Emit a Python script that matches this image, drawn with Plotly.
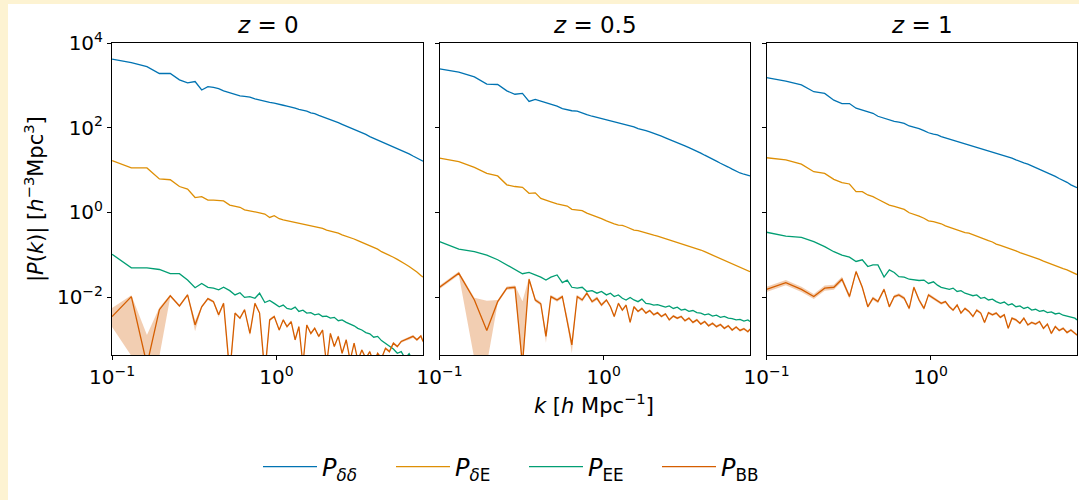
import numpy as np
import plotly.graph_objects as go

# ---------------- data (power values stored as log10) ----------------
k = [0.100, 0.131, 0.163, 0.194, 0.226, 0.257, 0.288, 0.320, 0.351, 0.383, 0.414, 0.445, 0.477,
     0.52, 0.56, 0.60, 0.64, 0.69, 0.74, 0.79, 0.85, 0.91, 0.97,
     1.04, 1.10, 1.16, 1.23, 1.30, 1.37, 1.45, 1.53, 1.62, 1.71,
     1.81, 1.91, 2.02, 2.13, 2.25, 2.38, 2.51, 2.66, 2.81, 2.97,
     3.13, 3.31, 3.50, 3.70, 3.91, 4.13, 4.36, 4.61, 4.87, 5.15,
     5.44, 5.75, 6.07, 6.42, 6.78, 7.16, 7.57, 7.80]

# z = 0
log10_Pdd_z0 = [3.62, 3.535, 3.44, 3.28, 3.28, 3.13, 3.06, 3.09, 2.89, 2.97, 2.95, 2.92, 2.87,
                2.83, 2.79, 2.75, 2.74, 2.72, 2.68, 2.65, 2.62, 2.60, 2.58,
                2.56, 2.53, 2.51, 2.49, 2.46, 2.43, 2.41, 2.39, 2.35, 2.33,
                2.29, 2.26, 2.22, 2.19, 2.16, 2.12, 2.08, 2.04, 2.00, 1.96,
                1.93, 1.89, 1.84, 1.79, 1.75, 1.71, 1.67, 1.63, 1.59, 1.55,
                1.50, 1.46, 1.43, 1.38, 1.33, 1.28, 1.24, 1.21]
log10_PdE_z0 = [1.22, 1.05, 1.05, 0.79, 0.77, 0.61, 0.55, 0.35, 0.37, 0.29, 0.29, 0.28, 0.27,
                0.17, 0.15, 0.12, 0.06, 0.04, 0.02, -0.01, -0.04, -0.12, -0.08,
                -0.15, -0.18, -0.20, -0.21, -0.24, -0.26, -0.27, -0.29, -0.31, -0.34,
                -0.36, -0.38, -0.42, -0.44, -0.47, -0.49, -0.53, -0.56, -0.59, -0.63,
                -0.67, -0.71, -0.74, -0.79, -0.83, -0.87, -0.93, -0.97, -1.01, -1.06,
                -1.11, -1.16, -1.22, -1.28, -1.34, -1.41, -1.49, -1.53]
log10_PEE_z0 = [-0.99, -1.31, -1.31, -1.35, -1.45, -1.45, -1.60, -1.78, -1.68, -1.77, -1.79, -1.83, -1.77,
                -1.85, -1.95, -1.90, -2.01, -1.99, -2.03, -1.91, -2.13, -2.08, -2.15,
                -2.23, -2.19, -2.27, -2.29, -2.24, -2.34, -2.31, -2.38, -2.37, -2.42,
                -2.40, -2.46, -2.45, -2.50, -2.48, -2.56, -2.54, -2.60, -2.64, -2.68,
                -2.74, -2.78, -2.84, -2.87, -2.95, -2.93, -3.03, -3.09, -3.17, -3.23,
                -3.33, -3.29, -3.45, -3.34, -3.50, -3.60, -3.50, -3.60]
log10_PBB_z0 = [-2.46, -1.99, -3.60, -2.30, -1.97, -2.21, -1.95, -2.66, -2.23, -2.04, -2.11, -2.42, -2.15,
                -3.80, -2.38, -2.50, -2.30, -2.86, -2.15, -2.38, -3.80, -2.54, -2.46,
                -2.78, -2.54, -2.70, -2.58, -3.01, -2.70, -3.60, -2.66, -2.86, -2.74,
                -2.93, -2.78, -3.60, -2.86, -3.17, -2.93, -3.33, -3.01, -3.50, -3.09,
                -3.50, -3.25, -3.45, -3.29, -3.55, -3.33, -3.45, -3.21, -3.29, -3.09,
                -3.17, -3.05, -3.01, -2.98, -2.93, -3.01, -2.92, -3.05]
BB_err_up_z0 = [0.20, 0.03, 0.70, 0.05, 0.03, 0.03, 0.03, 0.10, 0.03, 0.03, 0.03, 0.05, 0.03,
                0.10, 0.03, 0.03, 0.03, 0.05, 0.03, 0.03, 0.10, 0.03, 0.03,
                0.03, 0.03, 0.03, 0.03, 0.03, 0.03, 0.03, 0.03, 0.03, 0.03,
                0.03, 0.03, 0.03, 0.03, 0.03, 0.03, 0.03, 0.03, 0.03, 0.03,
                0.03, 0.03, 0.03, 0.03, 0.03, 0.03, 0.03, 0.03, 0.03, 0.03,
                0.03, 0.03, 0.03, 0.03, 0.03, 0.03, 0.03, 0.03]
BB_err_dn_z0 = [0.25, 1.40, 0.50, 1.10, 0.03, 0.03, 0.03, 0.15, 0.03, 0.03, 0.03, 0.06, 0.03,
                0.30, 0.03, 0.03, 0.03, 0.06, 0.03, 0.03, 0.30, 0.03, 0.03,
                0.03, 0.03, 0.03, 0.03, 0.03, 0.03, 0.03, 0.03, 0.03, 0.03,
                0.03, 0.03, 0.03, 0.03, 0.03, 0.03, 0.03, 0.03, 0.03, 0.03,
                0.03, 0.03, 0.03, 0.03, 0.03, 0.03, 0.03, 0.03, 0.03, 0.03,
                0.03, 0.03, 0.03, 0.03, 0.03, 0.03, 0.03, 0.03]

# z = 0.5
log10_Pdd_z05 = [3.39, 3.31, 3.20, 3.03, 3.02, 2.87, 2.79, 2.81, 2.62, 2.67, 2.63, 2.59, 2.54,
                 2.51, 2.45, 2.42, 2.40, 2.39, 2.34, 2.31, 2.27, 2.24, 2.21,
                 2.19, 2.16, 2.14, 2.12, 2.09, 2.07, 2.05, 2.02, 1.98, 1.96,
                 1.93, 1.90, 1.87, 1.83, 1.80, 1.76, 1.72, 1.68, 1.65, 1.61,
                 1.57, 1.53, 1.49, 1.44, 1.40, 1.35, 1.31, 1.26, 1.21, 1.16,
                 1.12, 1.07, 1.02, 0.97, 0.93, 0.90, 0.87, 0.86]
log10_PdE_z05 = [1.28, 1.20, 1.06, 0.92, 0.86, 0.65, 0.61, 0.59, 0.45, 0.46, 0.33, 0.28, 0.25,
                 0.20, 0.17, 0.15, 0.07, 0.06, 0.04, -0.02, -0.06, -0.10, -0.15,
                 -0.20, -0.24, -0.27, -0.30, -0.31, -0.34, -0.38, -0.42, -0.43, -0.46,
                 -0.49, -0.51, -0.54, -0.56, -0.59, -0.61, -0.64, -0.67, -0.70, -0.73,
                 -0.76, -0.79, -0.83, -0.86, -0.89, -0.93, -0.97, -1.01, -1.05, -1.08,
                 -1.12, -1.16, -1.20, -1.25, -1.28, -1.32, -1.38, -1.40]
log10_PEE_z05 = [-0.69, -0.87, -0.93, -1.01, -1.12, -1.24, -1.34, -1.45, -1.42, -1.48, -1.53, -1.60, -1.53,
                 -1.48, -1.66, -1.60, -1.77, -1.79, -1.77, -1.87, -1.85, -1.91, -1.87,
                 -1.95, -1.91, -1.99, -1.95, -2.03, -2.07, -2.01, -2.07, -2.11, -2.05,
                 -2.15, -2.16, -2.19, -2.18, -2.21, -2.24, -2.21, -2.27, -2.24, -2.31,
                 -2.29, -2.34, -2.32, -2.37, -2.38, -2.42, -2.40, -2.45, -2.43, -2.48,
                 -2.46, -2.50, -2.51, -2.54, -2.53, -2.57, -2.54, -2.58]
log10_PBB_z05 = [-1.77, -1.44, -2.07, -2.79, -2.11, -1.79, -1.77, -3.60, -1.58, -2.07, -2.16, -2.93, -1.99,
                 -2.07, -1.99, -2.54, -3.13, -1.99, -2.07, -1.91, -2.11, -2.03, -2.19,
                 -2.07, -2.23, -2.46, -2.15, -2.31, -2.19, -2.60, -2.23, -2.34, -2.27,
                 -2.38, -2.32, -2.42, -2.37, -2.46, -2.40, -2.54, -2.45, -2.50, -2.46,
                 -2.56, -2.50, -2.60, -2.54, -2.64, -2.58, -2.68, -2.62, -2.70, -2.65,
                 -2.74, -2.68, -2.78, -2.71, -2.79, -2.75, -2.82, -2.76]
BB_err_up_z05 = [0.04, 0.04, 0.05, 0.70, 0.04, 0.04, 0.04, 1.50, 0.04, 0.04, 0.04, 0.10, 0.04,
                 0.04, 0.04, 0.08, 0.10, 0.04, 0.04, 0.04, 0.04, 0.04, 0.04,
                 0.03, 0.03, 0.03, 0.03, 0.03, 0.03, 0.03, 0.03, 0.03, 0.03,
                 0.03, 0.03, 0.03, 0.03, 0.03, 0.03, 0.03, 0.03, 0.03, 0.03,
                 0.03, 0.03, 0.03, 0.03, 0.03, 0.03, 0.03, 0.03, 0.03, 0.03,
                 0.03, 0.03, 0.03, 0.03, 0.03, 0.03, 0.03, 0.03]
BB_err_dn_z05 = [0.04, 0.04, 1.40, 0.80, 0.04, 0.04, 0.04, 0.20, 0.04, 0.04, 0.04, 0.15, 0.04,
                 0.04, 0.04, 0.10, 0.20, 0.04, 0.04, 0.04, 0.04, 0.04, 0.04,
                 0.03, 0.03, 0.03, 0.03, 0.03, 0.03, 0.03, 0.03, 0.03, 0.03,
                 0.03, 0.03, 0.03, 0.03, 0.03, 0.03, 0.03, 0.03, 0.03, 0.03,
                 0.03, 0.03, 0.03, 0.03, 0.03, 0.03, 0.03, 0.03, 0.03, 0.03,
                 0.03, 0.03, 0.03, 0.03, 0.03, 0.03, 0.03, 0.03]

# z = 1
log10_Pdd_z1 = [3.18, 3.10, 3.01, 2.85, 2.81, 2.65, 2.57, 2.57, 2.46, 2.42, 2.38, 2.34, 2.27,
                2.22, 2.18, 2.15, 2.13, 2.10, 2.04, 2.01, 1.98, 1.93, 1.88,
                1.85, 1.83, 1.79, 1.76, 1.73, 1.71, 1.68, 1.65, 1.62, 1.59,
                1.57, 1.54, 1.50, 1.47, 1.45, 1.43, 1.40, 1.37, 1.34, 1.31,
                1.28, 1.24, 1.20, 1.17, 1.14, 1.10, 1.06, 1.02, 0.98, 0.94,
                0.89, 0.85, 0.80, 0.76, 0.71, 0.65, 0.61, 0.58]
log10_PdE_z1 = [1.29, 1.24, 1.14, 0.96, 0.92, 0.78, 0.70, 0.67, 0.49, 0.49, 0.41, 0.37, 0.31,
                0.23, 0.17, 0.14, 0.10, 0.07, -0.01, -0.04, -0.09, -0.14, -0.20,
                -0.22, -0.24, -0.27, -0.32, -0.35, -0.38, -0.42, -0.44, -0.48, -0.49,
                -0.53, -0.56, -0.59, -0.64, -0.67, -0.70, -0.75, -0.78, -0.81, -0.84,
                -0.87, -0.91, -0.95, -0.98, -1.01, -1.05, -1.08, -1.11, -1.15, -1.19,
                -1.22, -1.26, -1.30, -1.33, -1.36, -1.40, -1.44, -1.47]
log10_PEE_z1 = [-0.47, -0.56, -0.59, -0.69, -0.81, -0.93, -1.01, -1.06, -1.16, -1.12, -1.28, -1.24, -1.24,
                -1.53, -1.36, -1.42, -1.52, -1.53, -1.58, -1.60, -1.61, -1.60, -1.68,
                -1.64, -1.72, -1.77, -1.79, -1.82, -1.79, -1.87, -1.85, -1.91, -1.94,
                -1.97, -1.95, -2.03, -2.01, -2.07, -2.05, -2.11, -2.15, -2.12, -2.19,
                -2.16, -2.23, -2.21, -2.27, -2.24, -2.31, -2.29, -2.34, -2.32, -2.37,
                -2.35, -2.40, -2.38, -2.43, -2.45, -2.48, -2.50, -2.54]
log10_PBB_z1 = [-1.82, -1.66, -1.82, -1.99, -1.79, -1.77, -1.58, -1.99, -1.40, -1.77, -2.23, -2.03, -2.11,
                -1.82, -2.23, -1.99, -1.95, -2.03, -2.27, -1.77, -2.07, -2.27, -1.95,
                -2.03, -2.09, -2.15, -2.11, -2.23, -2.31, -2.19, -2.38, -2.27, -2.34,
                -2.46, -2.31, -2.38, -2.60, -2.37, -2.42, -2.38, -2.48, -2.42, -2.74,
                -2.50, -2.54, -2.62, -2.50, -2.66, -2.60, -2.64, -2.58, -2.74, -2.64,
                -2.86, -2.70, -2.79, -2.74, -2.84, -2.78, -2.86, -2.90]
BB_err_z1 = [0.06, 0.06, 0.06, 0.06, 0.06, 0.06, 0.06, 0.06, 0.04, 0.04, 0.04, 0.04, 0.04,
             0.04, 0.04, 0.04, 0.04, 0.04, 0.04, 0.04, 0.04, 0.04, 0.04,
             0.03, 0.03, 0.03, 0.03, 0.03, 0.03, 0.03, 0.03, 0.03, 0.03,
             0.03, 0.03, 0.03, 0.03, 0.03, 0.03, 0.03, 0.03, 0.03, 0.03,
             0.03, 0.03, 0.03, 0.03, 0.03, 0.03, 0.03, 0.03, 0.03, 0.03,
             0.03, 0.03, 0.03, 0.03, 0.03, 0.03, 0.03, 0.03]

panel_titles = ["<i>z</i> = 0", "<i>z</i> = 0.5", "<i>z</i> = 1"]
series_names = ["<i>P</i><sub><i>δδ</i></sub>", "<i>P</i><sub><i>δ</i>E</sub>",
                "<i>P</i><sub>EE</sub>", "<i>P</i><sub>BB</sub>"]
x_tickvals = [0.1, 1.0]
x_ticktext = ["10<sup>−1</sup>", "10<sup>0</sup>"]
y_tickvals = [1e-2, 1e0, 1e2, 1e4]
y_ticktext = ["10<sup>−2</sup>", "10<sup>0</sup>", "10<sup>2</sup>", "10<sup>4</sup>"]

# ---------------- styling ----------------
colors = ["#0173b2", "#de8f05", "#029e73", "#d55e00"]
band_color = "rgba(213,94,0,0.30)"
CREAM = "#fdf3d2"
FONT = "DejaVu Sans"
W, H = 1079, 500
ML, MR, MT, MB = 112, 2, 43, 145
PW, PH = W - ML - MR, H - MT - MB


def px_x(px):
    return (px - ML) / PW


def px_y(py):
    return (H - MB - py) / PH


x_domains = [[px_x(112), px_x(423)], [px_x(439.5), px_x(750)], [px_x(766.5), px_x(1077)]]

panels = [
    (log10_Pdd_z0, log10_PdE_z0, log10_PEE_z0, log10_PBB_z0, BB_err_up_z0, BB_err_dn_z0),
    (log10_Pdd_z05, log10_PdE_z05, log10_PEE_z05, log10_PBB_z05, BB_err_up_z05, BB_err_dn_z05),
    (log10_Pdd_z1, log10_PdE_z1, log10_PEE_z1, log10_PBB_z1, BB_err_z1, BB_err_z1),
]

fig = go.Figure()
kk = np.array(k)
for i, (dd, dE, EE, BB, up, dn) in enumerate(panels):
    xa = "x" if i == 0 else f"x{i+1}"
    ya = "y" if i == 0 else f"y{i+1}"
    for j, vals in enumerate([dd, dE, EE]):
        fig.add_trace(go.Scatter(x=k, y=10 ** np.array(vals), mode="lines",
                                 line=dict(color=colors[j], width=1.3),
                                 name=series_names[j], legendgroup=str(j),
                                 showlegend=(i == 0), xaxis=xa, yaxis=ya))
    bb = np.array(BB)
    upper = 10 ** (bb + np.array(up))
    lower = 10 ** (bb - np.array(dn))
    fig.add_trace(go.Scatter(x=list(kk) + list(kk[::-1]), y=list(upper) + list(lower[::-1]),
                             fill="toself", fillcolor=band_color, mode="lines",
                             line=dict(width=0, color=band_color), hoverinfo="skip",
                             showlegend=False, xaxis=xa, yaxis=ya))
    fig.add_trace(go.Scatter(x=k, y=10 ** bb, mode="lines",
                             line=dict(color=colors[3], width=1.3),
                             name=series_names[3], legendgroup="3",
                             showlegend=(i == 0), xaxis=xa, yaxis=ya))

axis_common = dict(type="log", ticks="outside", ticklen=4, tickwidth=1, tickcolor="black",
                   showline=True, linecolor="black", linewidth=1, mirror=True,
                   showgrid=False, zeroline=False,
                   tickfont=dict(family=FONT, size=20, color="black"))

layout = dict(
    width=W, height=H,
    margin=dict(l=ML, r=MR, t=MT, b=MB),
    paper_bgcolor=CREAM,
    plot_bgcolor="white",
    font=dict(family=FONT, color="black"),
    legend=dict(orientation="h", x=px_x(258), xanchor="left", y=px_y(467), yanchor="middle",
                font=dict(family=FONT, size=24, color="black"),
                bgcolor="rgba(0,0,0,0)", entrywidth=64, entrywidthmode="pixels",
                itemwidth=54),
    shapes=[dict(type="rect", xref="paper", yref="paper", x0=px_x(8), x1=px_x(W + 5),
                 y0=px_y(H + 5), y1=px_y(4), fillcolor="white", line=dict(width=0),
                 layer="below")],
)
for i in range(3):
    xname = "xaxis" if i == 0 else f"xaxis{i+1}"
    yname = "yaxis" if i == 0 else f"yaxis{i+1}"
    layout[xname] = dict(axis_common, domain=x_domains[i], range=[-1.0005, 0.892],
                         tickvals=x_tickvals, ticktext=x_ticktext,
                         anchor="y" if i == 0 else f"y{i+1}")
    layout[yname] = dict(axis_common, domain=[0, 1], range=[-3.37, 4.0005],
                         tickvals=y_tickvals, ticktext=y_ticktext,
                         showticklabels=(i == 0),
                         anchor="x" if i == 0 else f"x{i+1}")

annotations = []
for i, t in enumerate(panel_titles):
    cx = (x_domains[i][0] + x_domains[i][1]) / 2
    annotations.append(dict(text=t, x=cx, y=px_y(25), xref="paper", yref="paper",
                            xanchor="center", yanchor="middle", showarrow=False,
                            font=dict(family=FONT, size=23, color="black")))
annotations.append(dict(text="<i>k</i> [<i>h</i> Mpc<sup>−1</sup>]", x=px_x(594), y=px_y(404),
                        xref="paper", yref="paper", xanchor="center", yanchor="middle",
                        showarrow=False, font=dict(family=FONT, size=21, color="black")))
annotations.append(dict(text="|<i>P</i>(<i>k</i>)| [<i>h</i><sup>−3</sup>Mpc<sup>3</sup>]",
                        x=px_x(34), y=px_y(199), xref="paper", yref="paper",
                        xanchor="center", yanchor="middle", textangle=-90, showarrow=False,
                        font=dict(family=FONT, size=21, color="black")))
layout["annotations"] = annotations

fig.update_layout(**layout)
fig.write_html("out.html", config={"displayModeBar": False},
               post_script="document.body.style.margin='0';document.body.style.overflow='hidden';"
                           "document.body.style.background='" + CREAM + "';")
